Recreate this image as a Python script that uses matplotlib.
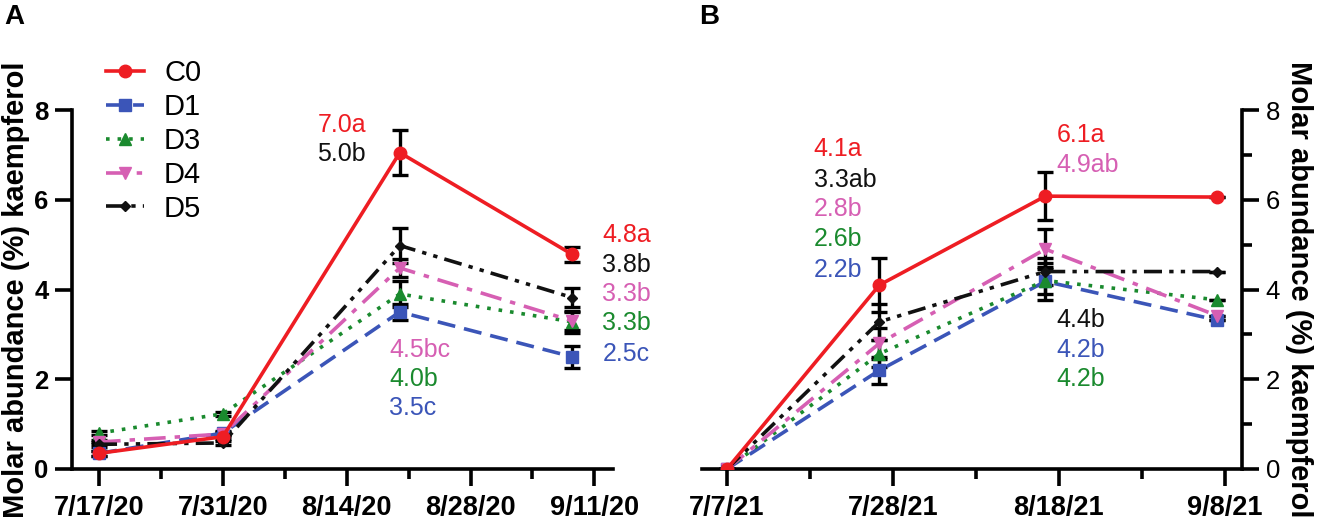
import matplotlib
matplotlib.use("Agg")
import matplotlib.pyplot as plt
from matplotlib.ticker import FixedLocator

plt.rcParams['font.family'] = ['Liberation Sans', 'DejaVu Sans']

series = ['C0', 'D1', 'D3', 'D4', 'D5']
colors = ['#ee1d23', '#3b55b8', '#1a8a2e', '#d65fb3', '#111111']
markers = ['o', 's', '^', 'v', 'D']
msizes = [9, 8, 8, 8, 5]
styles = ['-', (0, (5, 2.5)), (0, (1, 2.2)), (0, (6, 2.5, 1.5, 2.5)), (0, (5, 2, 1.2, 2, 1.2, 2))]

# panel A: days after 7/17/20
days_a = [0, 14, 34, 53.5]
ticks_a = [0, 14, 28, 42, 56]
ticklabels_a = ['7/17/20', '7/31/20', '8/14/20', '8/28/20', '9/11/20']
vals_a = {
    'C0': [0.35, 0.72, 7.05, 4.78],
    'D1': [0.35, 0.80, 3.50, 2.50],
    'D3': [0.80, 1.23, 3.90, 3.28],
    'D4': [0.60, 0.78, 4.48, 3.30],
    'D5': [0.55, 0.58, 4.98, 3.82],
}
err_a = {
    'C0': [0.05, 0.05, 0.50, 0.17],
    'D1': [0.05, 0.05, 0.18, 0.25],
    'D3': [0.05, 0.05, 0.30, 0.25],
    'D4': [0.05, 0.05, 0.20, 0.20],
    'D5': [0.05, 0.05, 0.38, 0.22],
}
# panel B: days after 7/7/21
days_b = [0, 19.3, 40.3, 62]
ticks_b = [0, 21, 42, 63]
ticklabels_b = ['7/7/21', '7/28/21', '8/18/21', '9/8/21']
vals_b = {
    'C0': [0.0, 4.10, 6.08, 6.06],
    'D1': [0.0, 2.20, 4.18, 3.32],
    'D3': [0.0, 2.57, 4.20, 3.77],
    'D4': [0.0, 2.80, 4.90, 3.42],
    'D5': [0.0, 3.28, 4.40, 4.40],
}
err_b = {
    'C0': [0.0, 0.60, 0.54, 0.0],
    'D1': [0.0, 0.30, 0.42, 0.0],
    'D3': [0.0, 0.30, 0.30, 0.0],
    'D4': [0.0, 0.35, 0.45, 0.0],
    'D5': [0.0, 0.40, 0.30, 0.0],
}

# letter annotations (text, colour index, x day, y)
notes_a = [('7.0a', 0, 24.7, 7.66), ('5.0b', 4, 24.7, 7.02),
           ('4.8a', 0, 56.9, 5.21), ('3.8b', 4, 56.9, 4.55), ('3.3b', 3, 56.9, 3.9),
           ('3.3b', 2, 56.9, 3.25), ('2.5c', 1, 56.9, 2.57),
           ('4.5bc', 3, 32.8, 2.66), ('4.0b', 2, 32.8, 2.0), ('3.5c', 1, 32.8, 1.36)]
notes_b = [('4.1a', 0, 11.0, 7.12), ('3.3ab', 4, 11.0, 6.45), ('2.8b', 3, 11.0, 5.79),
           ('2.6b', 2, 11.0, 5.12), ('2.2b', 1, 11.0, 4.44),
           ('6.1a', 0, 41.7, 7.44), ('4.9ab', 3, 41.7, 6.77),
           ('4.4b', 4, 41.7, 3.33), ('4.2b', 1, 41.7, 2.66), ('4.2b', 2, 41.7, 2.0)]

fig = plt.figure(figsize=(13.19, 5.21), dpi=100)
axA = fig.add_axes([72 / 1319, 52 / 521, 541 / 1319, 359 / 521])
axB = fig.add_axes([702 / 1319, 52 / 521, 540 / 1319, 359 / 521])


def draw(ax, days, vals, errs, notes):
    for i, s in enumerate(series):
        ax.errorbar(days, vals[s], yerr=errs[s], fmt='none', ecolor='black',
                    elinewidth=2.4, capsize=6, capthick=2.4, zorder=2)
    for i, s in enumerate(series):
        ax.plot(days, vals[s], color=colors[i], linestyle=styles[i], lw=2.6,
                marker=markers[i], ms=msizes[i], label=s, zorder=3 + (i == 0))
    for txt, ci, x, y in notes:
        ax.text(x, y, txt, color=colors[ci], fontsize=18, ha='left', va='center')
    ax.set_ylim(0, 8)
    ax.set_yticks([0, 2, 4, 6, 8])
    ax.tick_params(axis='both', width=2.6, length=12)
    ax.tick_params(axis='x', labelsize=19.5, pad=7)
    ax.tick_params(axis='y', labelsize=18.5, pad=5)
    ax.tick_params(axis='both', which='minor', width=2.6, length=7)
    for lab in ax.get_xticklabels() + ax.get_yticklabels():
        lab.set_fontweight('bold')
    ax.spines['top'].set_visible(False)
    for sp in ax.spines.values():
        sp.set_linewidth(2.6)


draw(axA, days_a, vals_a, err_a, notes_a)
axA.set_xlim(-3.05, 58.1)
axA.set_xticks(ticks_a)
axA.set_xticklabels(ticklabels_a, fontweight='bold')
axA.xaxis.set_minor_locator(FixedLocator([7, 21, 35, 49]))
axA.spines['right'].set_visible(False)
axA.set_ylabel('Molar abundance (%) kaempferol', fontsize=21, fontweight='bold', labelpad=3)
leg = axA.legend(loc='upper left', bbox_to_anchor=(0.03, 1.19), frameon=False, fontsize=21,
                 handlelength=1.3, labelspacing=0.2, handletextpad=0.7, borderpad=0.1)

draw(axB, days_b, vals_b, err_b, notes_b)
axB.set_xlim(-3.16, 65.2)
axB.set_xticks(ticks_b)
axB.set_xticklabels(ticklabels_b, fontweight='bold')
axB.xaxis.set_minor_locator(FixedLocator([10.5, 31.5, 52.5]))
axB.yaxis.set_minor_locator(FixedLocator([1, 3, 5, 7]))
axB.spines['left'].set_visible(False)
axB.yaxis.tick_right()
axB.yaxis.set_label_position('right')
axB.set_ylabel('Molar abundance (%) kaempferol', fontsize=21, fontweight='bold',
               rotation=-90, labelpad=24)

fig.text(0.003, 1 - 17 / 521, 'A', fontsize=20, fontweight='bold', va='center')
fig.text(0.53, 1 - 17 / 521, 'B', fontsize=20, fontweight='bold', va='center')

fig.savefig('out.png', dpi=100)
